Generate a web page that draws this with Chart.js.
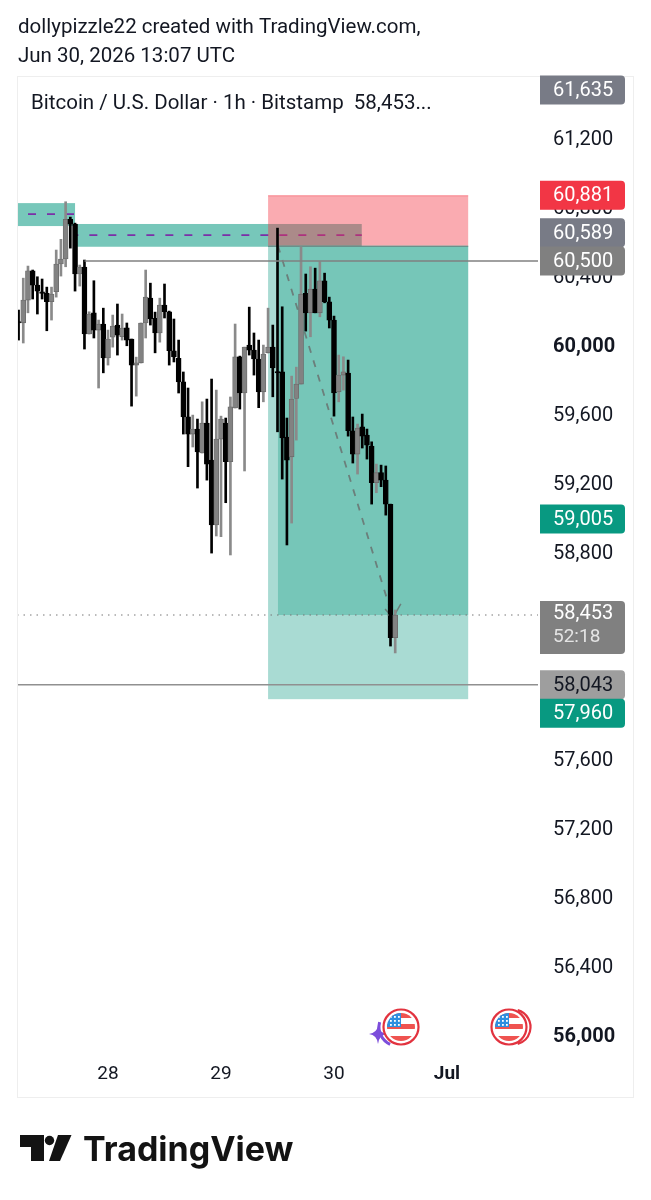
<!DOCTYPE html>
<html>
<head>
<meta charset="utf-8">
<title>BTCUSD 1h</title>
<script src="https://cdn.jsdelivr.net/npm/chart.js@4/dist/chart.umd.js"></script>
<style>
    html, body { margin: 0; padding: 0; background: #ffffff; }
    canvas { display: block; }
</style>
</head>
<body>
<canvas id="ctx" width="651" height="1200"></canvas>
<script>
// candles, hourly prices
var candleOpen = [60146, 60142, 60274, 60444, 60361, 60322, 60313, 60264, 60322, 60483, 60512, 60742, 60714, 60425, 60465, 60077, 60200, 60100, 60135, 59938, 60059, 60129, 60061, 60113, 60048, 59897, 59910, 60141, 60285, 60168, 60083, 60245, 60206, 59980, 59936, 59800, 59597, 59497, 59526, 59387, 59561, 59346, 58970, 59468, 59561, 59337, 59648, 59945, 59735, 60013, 59984, 59932, 59742, 59968, 60001, 59858, 59858, 59480, 59365, 59704, 59787, 60313, 60200, 60338, 60200, 60386, 60264, 60158, 59742, 59839, 59851, 59516, 59381, 59539, 59491, 59428, 59215, 59273, 59230, 59090, 58316];
var candleHigh = [60216, 60401, 60471, 60448, 60409, 60396, 60349, 60349, 60564, 60626, 60844, 60755, 60720, 60477, 60506, 60206, 60386, 60158, 60227, 60100, 60187, 60251, 60193, 60141, 60048, 59943, 60141, 60448, 60372, 60204, 60285, 60367, 60210, 60164, 60042, 59857, 59764, 59607, 59584, 59684, 59700, 59816, 59752, 59601, 59590, 59712, 60135, 59949, 60001, 60233, 60083, 60042, 60013, 60227, 60129, 60691, 60235, 59590, 59833, 59885, 60583, 60425, 60467, 60459, 60496, 60430, 60291, 60181, 59955, 59945, 59926, 59596, 59555, 59613, 59526, 59452, 59323, 59317, 59312, 59091, 58477];
var candleLow = [60042, 60025, 60200, 60280, 60193, 60280, 60096, 60158, 60291, 60413, 60467, 60575, 60326, 60355, 59990, 60077, 60054, 59764, 59852, 59897, 60001, 59955, 60042, 60009, 59659, 59717, 59909, 60054, 60129, 59968, 60030, 60170, 59897, 59915, 59735, 59497, 59308, 59422, 59184, 59387, 59230, 58807, 58906, 58902, 59099, 58796, 59648, 59642, 59283, 59955, 59839, 59650, 59684, 59967, 59713, 59510, 59236, 58854, 58981, 59462, 59787, 60094, 60061, 60200, 60177, 60258, 60112, 59601, 59684, 59752, 59485, 59329, 59265, 59416, 59352, 59091, 59157, 59192, 59027, 58268, 58228];
var candleClose = [60141, 60274, 60444, 60361, 60326, 60313, 60264, 60309, 60483, 60512, 60742, 60714, 60425, 60465, 60077, 60193, 60100, 60135, 59938, 60048, 60123, 60071, 60112, 60042, 59897, 59910, 60141, 60291, 60164, 60083, 60245, 60206, 59980, 59945, 59800, 59597, 59497, 59526, 59394, 59561, 59323, 58970, 59468, 59584, 59337, 59655, 59945, 59735, 60001, 59984, 59932, 59742, 59961, 60001, 59880, 59851, 59474, 59346, 59700, 59787, 60309, 60200, 60338, 60200, 60386, 60264, 60158, 59736, 59839, 59858, 59516, 59381, 59532, 59485, 59433, 59215, 59273, 59230, 59091, 58316, 58448];

var priceTicks = [61200, 60800, 60400, 60000, 59600, 59200, 58800, 58400, 58000, 57600, 57200, 56800, 56400, 56000];
var boldPrices = [60000, 56000];
var dayTicks = [19, 43, 67, 91];
var dayLabels = ['28', '29', '30', 'Jul'];

// drawings on the chart, in candle index and price
var priceMin = 55868, priceMax = 61573;
var indexMin = -0.33, indexMax = 110.33;
var pathIndex = [55.1, 79.5];
var pathPrice = [60589, 58432];
var arrowIndex = [77.85, 79.5, 81.2];
var arrowPrice = [58483, 58432, 58512];
var upperLinePrice = 60500, lowerLinePrice = 58043, lastPrice = 58448;
var upperLineStart = 14;
var entryPrice = 60589, stopPrice = 60881, targetPrice = 57960;
var positionStart = 53, positionEnd = 95.5, filledStart = 55.1;
var leftZone = [indexMin, 12, 60836, 60703, 60772];
var longZone = [12, 72.9, 60715, 60583, 60651];

// price labels on the axis
var badgeTexts = ['61,635', '60,881', '60,589', '60,500', '59,005', '58,043', '57,960'];
var badgePrices = [61635, 60881, 60589, 60500, 59005, 58043, 57960];
var badgeColors = ['#787b86', '#f23645', '#787b86', '#808080', '#089981', '#9e9e9e', '#089981'];
var badgeInk = ['#ffffff', '#ffffff', '#ffffff', '#ffffff', '#ffffff', '#131722', '#ffffff'];
var badgeShift = [0, 0, -13, 0, 0, 0, 14];

var wicks = [], bodies = [], wickColors = [], bodyColors = [], bodyEdges = [];
for (var i = 0; i < candleOpen.length; i++) {
    var up = candleClose[i] >= candleOpen[i];
    wicks.push({ x: i, y: [candleLow[i], candleHigh[i]] });
    bodies.push({ x: i, y: [candleOpen[i], candleClose[i]] });
    wickColors.push(up ? '#8a8a8a' : '#000000');
    bodyColors.push(up ? '#828282' : '#000000');
    bodyEdges.push(up ? '#6a6a6a' : '#000000');
}

function twoPoints(xs, ys) {
    return xs.map(function (x, n) { return { x: x, y: ys[n] }; });
}

function roundBadge(c, x, y, w, h) {
    c.beginPath();
    c.roundRect(x, y, w, h, [0, 4, 4, 0]);
    c.fill();
}

var zonesPlugin = {
    id: 'zones',
    beforeDatasetsDraw: function (chart) {
        var c = chart.ctx, xs = chart.scales.x, ys = chart.scales.y;
        function box(a, b, top, bottom, color) {
            c.fillStyle = color;
            c.fillRect(xs.getPixelForValue(a), ys.getPixelForValue(top), xs.getPixelForValue(b) - xs.getPixelForValue(a), ys.getPixelForValue(bottom) - ys.getPixelForValue(top));
        }
        function dashes(zone, offset) {
            c.save();
            c.strokeStyle = '#7b2fa8';
            c.lineWidth = 1.8;
            c.setLineDash([8, 11]);
            c.lineDashOffset = offset;
            c.beginPath();
            c.moveTo(xs.getPixelForValue(zone[0]), ys.getPixelForValue(zone[4]));
            c.lineTo(xs.getPixelForValue(zone[1]), ys.getPixelForValue(zone[4]));
            c.stroke();
            c.restore();
        }
        box(positionStart, positionEnd, entryPrice, targetPrice, 'rgba(8,153,129,0.35)');
        box(filledStart, positionEnd, entryPrice, lastPrice, 'rgba(8,153,129,0.32)');
        box(leftZone[0], leftZone[1], leftZone[2], leftZone[3], 'rgba(8,153,129,0.55)');
        box(longZone[0], longZone[1], longZone[2], longZone[3], 'rgba(8,153,129,0.55)');
        dashes(leftZone, 8);
        dashes(longZone, 4.7);
        box(positionStart, positionEnd, stopPrice, entryPrice, 'rgba(242,54,69,0.42)');

        // edges of the position box
        c.fillStyle = 'rgba(242,54,69,0.35)';
        c.fillRect(xs.getPixelForValue(positionStart), ys.getPixelForValue(stopPrice), xs.getPixelForValue(positionEnd) - xs.getPixelForValue(positionStart), 1);
        c.fillStyle = '#6d8e8a';
        c.fillRect(xs.getPixelForValue(positionStart), ys.getPixelForValue(entryPrice), xs.getPixelForValue(positionEnd) - xs.getPixelForValue(positionStart), 1.2);
    }
};

function drawFlag(c, cx, cy, doubled) {
    c.save();
    c.strokeStyle = '#e2333f';
    c.lineWidth = 2.2;
    if (doubled) {
        c.beginPath();
        c.arc(cx + 4, cy, 17.5, -1.3, 1.3);
        c.stroke();
    }
    c.beginPath();
    c.arc(cx, cy, 17.5, 0, Math.PI * 2);
    c.fillStyle = '#ffffff';
    c.fill();
    c.stroke();
    c.beginPath();
    c.arc(cx, cy, 14, 0, Math.PI * 2);
    c.clip();
    c.fillStyle = '#ef5350';
    c.fillRect(cx - 14, cy - 14, 28, 5);
    c.fillRect(cx - 14, cy - 3, 28, 5);
    c.fillRect(cx - 14, cy + 9, 28, 5);
    c.fillStyle = '#2e8fe0';
    c.fillRect(cx - 14, cy - 14, 14, 14);
    c.fillStyle = '#ffffff';
    for (var a = 0; a < 3; a++) {
        for (var b = 0; b < 3; b++) {
            c.fillRect(cx - 11 + b * 4, cy - 11 + a * 4, 1.8, 1.8);
        }
    }
    c.restore();
}

var overlayPlugin = {
    id: 'overlay',
    afterDraw: function (chart) {
        var c = chart.ctx, ys = chart.scales.y;
        c.save();

        // page header and frame
        c.fillStyle = '#131722';
        c.textAlign = 'left';
        c.textBaseline = 'alphabetic';
        c.font = '20.5px Roboto';
        c.fillText('dollypizzle22 created with TradingView.com,', 18, 33);
        c.fillText('Jun 30, 2026 13:07 UTC', 18, 62);
        c.strokeStyle = '#eeeeee';
        c.strokeRect(17.5, 76.5, 616, 1021);
        c.font = '20.5px Roboto';
        c.fillText('Bitcoin / U.S. Dollar · 1h · Bitstamp  58,453...', 31, 109);

        // last price badge, taller because of the countdown
        var lastY = ys.getPixelForValue(lastPrice);
        c.fillStyle = '#808080';
        roundBadge(c, 540, lastY - 14, 85, 53);
        c.textBaseline = 'middle';
        c.font = '20px Roboto';
        c.fillStyle = '#ffffff';
        c.fillText('58,453', 553, lastY - 1);
        c.fillStyle = '#e4e4e4';
        c.font = '19px Roboto';
        c.fillText('52:18', 553, lastY + 22);

        badgeTexts.forEach(function (text, n) {
            var y = Math.max(ys.getPixelForValue(badgePrices[n]), 90) + badgeShift[n];
            c.fillStyle = badgeColors[n];
            roundBadge(c, 540, y - 14.5, 85, 29);
            c.fillStyle = badgeInk[n];
            c.font = '20px Roboto';
            c.fillText(text, 553, y + 1);
        });

        // economic event marks
        c.fillStyle = '#7c4ddb';
        c.beginPath();
        c.arc(398, 1027, 19, 2, 3.4);
        c.lineWidth = 3;
        c.strokeStyle = '#7c4ddb';
        c.stroke();
        c.beginPath();
        c.moveTo(378, 1025);
        c.quadraticCurveTo(379, 1033, 387, 1034);
        c.quadraticCurveTo(379, 1035, 378, 1044);
        c.quadraticCurveTo(377, 1035, 369, 1034);
        c.quadraticCurveTo(377, 1033, 378, 1025);
        c.fill();
        drawFlag(c, 401, 1027, false);
        drawFlag(c, 509, 1027, true);

        // footer logo
        c.fillStyle = '#131313';
        c.beginPath();
        c.moveTo(20, 1135); c.lineTo(44, 1135); c.lineTo(44, 1161); c.lineTo(31, 1161); c.lineTo(31, 1147); c.lineTo(20, 1147);
        c.closePath();
        c.fill();
        c.beginPath();
        c.arc(49.5, 1140.5, 4.7, 0, Math.PI * 2);
        c.fill();
        c.beginPath();
        c.moveTo(58, 1135); c.lineTo(71.5, 1135); c.lineTo(60, 1161); c.lineTo(49, 1161);
        c.closePath();
        c.fill();
        c.textBaseline = 'alphabetic';
        c.font = '700 34px Inter';
        c.fillText('TradingView', 83, 1161);
        c.restore();
    }
};

const myChart = new Chart(document.getElementById('ctx'), {
    type: 'bar',
    data: {
        datasets: [
            {
                type: 'line',
                data: twoPoints([upperLineStart, indexMax], [upperLinePrice, upperLinePrice]),
                borderColor: '#808080',
                borderWidth: 1.5,
                pointRadius: 0,
                order: 0
            },
            {
                type: 'line',
                data: twoPoints([indexMin, indexMax], [lowerLinePrice, lowerLinePrice]),
                borderColor: '#909090',
                borderWidth: 1.5,
                pointRadius: 0,
                order: 0
            },
            {
                type: 'line',
                data: twoPoints([indexMin, indexMax], [lastPrice, lastPrice]),
                borderColor: '#777777',
                borderWidth: 1,
                borderDash: [1.5, 5],
                pointRadius: 0,
                order: 0
            },
            {
                data: bodies,
                grouped: false,
                barThickness: 5,
                minBarLength: 1.5,
                backgroundColor: bodyColors,
                borderColor: bodyEdges,
                borderWidth: 0.8,
                borderSkipped: false,
                order: 1
            },
            {
                data: wicks,
                grouped: false,
                barThickness: 2,
                backgroundColor: wickColors,
                borderWidth: 0,
                order: 2
            },
            {
                type: 'line',
                data: twoPoints(pathIndex, pathPrice),
                borderColor: '#6b7f7b',
                borderWidth: 1.8,
                borderDash: [7, 8],
                pointRadius: 0,
                order: 3
            },
            {
                type: 'line',
                data: twoPoints(arrowIndex, arrowPrice),
                borderColor: '#6b7f7b',
                borderWidth: 1.5,
                pointRadius: 0,
                order: 3
            }
        ]
    },
    options: {
        responsive: false,
        animation: false,
        layout: { padding: { left: 17, top: 76, right: 0, bottom: 110 } },
        plugins: { legend: { display: false }, tooltip: { enabled: false }, title: { display: false } },
        scales: {
            x: {
                type: 'linear',
                offset: false,
                min: indexMin,
                max: indexMax,
                grid: { display: false, drawTicks: false },
                border: { display: false },
                afterBuildTicks: function (scale) {
                    scale.ticks = dayTicks.map(function (v) { return { value: v }; });
                },
                afterFit: function (scale) { scale.height = 30; },
                ticks: {
                    autoSkip: false,
                    maxRotation: 0,
                    padding: 3,
                    color: '#131722',
                    font: function (context) {
                        return { family: 'Roboto', size: 19, weight: context.tick && context.tick.value === 91 ? 'bold' : 'normal' };
                    },
                    callback: function (value) { return dayLabels[dayTicks.indexOf(value)]; }
                }
            },
            y: {
                position: 'right',
                min: priceMin,
                max: priceMax,
                grid: { display: false, drawTicks: false },
                border: { display: false },
                afterBuildTicks: function (scale) {
                    scale.ticks = priceTicks.map(function (v) { return { value: v }; });
                },
                afterFit: function (scale) { scale.width = 113; },
                ticks: {
                    padding: 15,
                    color: '#131722',
                    font: function (context) {
                        return { family: 'Roboto', size: 20, weight: context.tick && boldPrices.indexOf(context.tick.value) >= 0 ? 'bold' : 'normal' };
                    },
                    callback: function (value) { return value.toLocaleString('en-US'); }
                }
            }
        }
    },
    plugins: [zonesPlugin, overlayPlugin]
});
</script>
</body>
</html>
